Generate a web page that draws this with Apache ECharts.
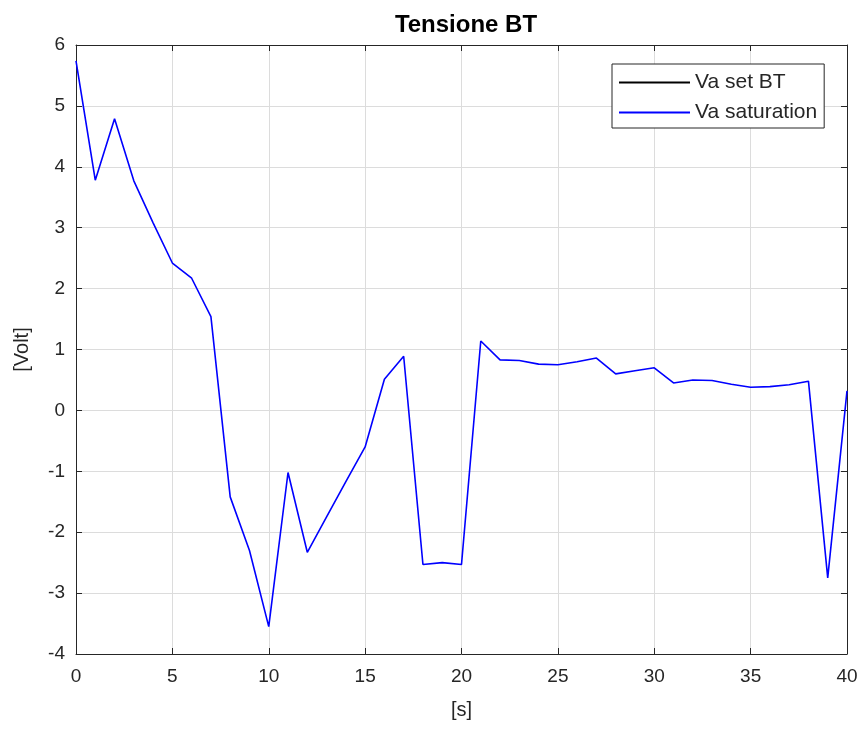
<!DOCTYPE html>
<html>
<head>
<meta charset="utf-8">
<script src="https://cdn.jsdelivr.net/npm/echarts@6/dist/echarts.min.js"></script>
<style>
html,body{margin:0;padding:0;background:#fff;}
#chart{width:864px;height:734px;}
</style>
</head>
<body>
<div id="chart"></div>
<script>
var titleText = 'Tensione BT';
var xName = '[s]';
var yName = '[Volt]';
var seriesNames = ['Va set BT', 'Va saturation'];
var timeS = [0,1,2,3,4,5,6,7,8,9,10,11,12,13,14,15,16,17,18,19,20,21,22,23,24,25,26,27,28,29,30,31,32,33,34,35,36,37,38,39,40];
var vaSaturation = [5.74,3.78,4.79,3.77,3.08,2.42,2.17,1.54,-1.42,-2.30,-3.55,-1.02,-2.33,-1.75,-1.17,-0.60,0.51,0.89,-2.53,-2.50,-2.53,1.14,0.83,0.82,0.76,0.75,0.80,0.86,0.60,0.65,0.70,0.45,0.50,0.49,0.43,0.38,0.39,0.42,0.48,-2.75,0.32];
var vaSetBT = [];
var xTicks = {min: 0, max: 40, interval: 5};
var yTicks = {min: -4, max: 6, interval: 1};

var satPairs = timeS.map(function (t, i) { return [t, vaSaturation[i]]; });
var setPairs = vaSetBT.map(function (v, i) { return [timeS[i], v]; });

var axisColor = '#262626';
var gridColor = '#dcdcdc';
var fontFam = '"Liberation Sans", Arial, sans-serif';

var chart = echarts.init(document.getElementById('chart'), null, {renderer: 'canvas'});
chart.setOption({
  animation: false,
  backgroundColor: '#fff',
  title: {
    text: titleText,
    left: 461, textAlign: 'center', top: 8,
    textStyle: {fontFamily: fontFam, fontSize: 24, fontWeight: 'bold', color: '#000'}
  },
  grid: {left: 76, right: 17, top: 45, bottom: 80},
  legend: {
    left: 612, top: 64,
    orient: 'vertical',
    backgroundColor: '#fff',
    borderColor: axisColor, borderWidth: 1,
    padding: [8, 7, 5, 7],
    itemGap: 9,
    itemWidth: 71, itemHeight: 2,
    icon: 'rect',
    textStyle: {fontFamily: fontFam, fontSize: 21, color: axisColor, lineHeight: 20},
    data: seriesNames
  },
  xAxis: [{
    type: 'value', min: xTicks.min, max: xTicks.max, interval: xTicks.interval,
    name: xName, nameLocation: 'middle', nameGap: 46,
    nameTextStyle: {fontFamily: fontFam, fontSize: 20, color: axisColor},
    axisLine: {show: true, onZero: false, lineStyle: {color: axisColor, width: 1}},
    axisTick: {show: true, inside: true, length: 6, lineStyle: {color: axisColor}},
    axisLabel: {fontFamily: fontFam, fontSize: 19, color: axisColor, margin: 13},
    splitLine: {show: true, lineStyle: {color: gridColor, width: 1}}
  }, {
    type: 'value', position: 'top', min: xTicks.min, max: xTicks.max, interval: xTicks.interval,
    axisLine: {show: true, onZero: false, lineStyle: {color: axisColor, width: 1}},
    axisTick: {show: true, inside: true, length: 6, lineStyle: {color: axisColor}},
    axisLabel: {show: false},
    splitLine: {show: false}
  }],
  yAxis: [{
    type: 'value', min: yTicks.min, max: yTicks.max, interval: yTicks.interval,
    name: yName, nameLocation: 'middle', nameGap: 44, nameRotate: 90,
    nameTextStyle: {fontFamily: fontFam, fontSize: 20, color: axisColor},
    axisLine: {show: true, onZero: false, lineStyle: {color: axisColor, width: 1}},
    axisTick: {show: true, inside: true, length: 6, lineStyle: {color: axisColor}},
    axisLabel: {fontFamily: fontFam, fontSize: 19, color: axisColor, margin: 11},
    splitLine: {show: true, lineStyle: {color: gridColor, width: 1}}
  }, {
    type: 'value', position: 'right', min: yTicks.min, max: yTicks.max, interval: yTicks.interval,
    axisLine: {show: true, onZero: false, lineStyle: {color: axisColor, width: 1}},
    axisTick: {show: true, inside: true, length: 6, lineStyle: {color: axisColor}},
    axisLabel: {show: false},
    splitLine: {show: false}
  }],
  series: [{
    name: seriesNames[0], type: 'line', data: setPairs,
    showSymbol: false, symbol: 'none',
    color: '#000000', lineStyle: {color: '#000000', width: 1.6}
  }, {
    name: seriesNames[1], type: 'line', data: satPairs,
    showSymbol: false, symbol: 'none',
    color: '#0000ff', lineStyle: {color: '#0000ff', width: 1.6}
  }]
});
</script>
</body>
</html>
